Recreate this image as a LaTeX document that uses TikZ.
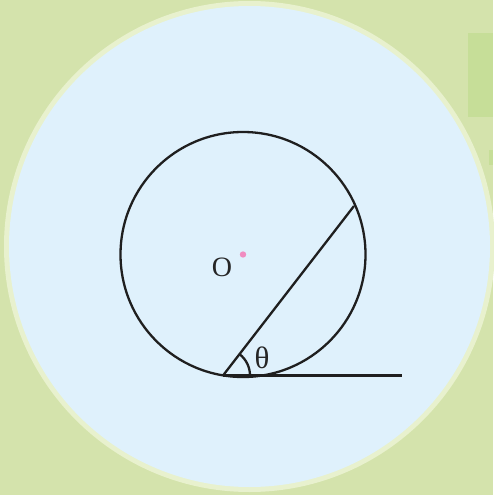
\documentclass[tikz,border=0pt]{standalone}
\usepackage{fontspec}
\setmainfont{Liberation Serif}
\begin{document}
\begin{tikzpicture}[x=1pt,y=-1pt,
  geom/.style={draw=black!88,line width=2.3pt},
  lbl/.style={font=\fontsize{28}{30}\selectfont,text=black!85,inner sep=0pt}]
\definecolor{bggreen}{RGB}{212,227,172}
\definecolor{rimgreen}{RGB}{232,241,206}
\definecolor{skyblue}{RGB}{223,241,252}
\definecolor{boxgreen}{RGB}{198,222,152}
\definecolor{dotpink}{RGB}{240,140,192}
\useasboundingbox (0,0) rectangle (493,495);
\fill[bggreen] (0,0) rectangle (493,495);
\fill[boxgreen] (468,33) rectangle (493,117);
\fill[boxgreen] (489,150) rectangle (493,165);
\fill[rimgreen] (249.5,246.5) circle (245.5);
\fill[skyblue] (249.5,246.5) circle (240.5);
% geometry
\coordinate (O) at (243,254.5);
\coordinate (A) at (223,375.5);
\coordinate (B) at (354,206);
\coordinate (T) at (402,375.5);
\coordinate (Arc0) at (250,375.5);
\draw[geom] (O) circle (122.5);
\draw[geom] (A) -- (B);
\draw[geom] (A) -- (T);
\draw[geom] (Arc0) arc[start angle=0,end angle=-52.2,radius=27];
\fill[dotpink] (O) circle (3.2);
\node[lbl] (Olbl) at (222,267) {O};
\node[lbl,font=\fontsize{31}{33}\selectfont] (theta) at (262,358) {θ};
\end{tikzpicture}
\end{document}
